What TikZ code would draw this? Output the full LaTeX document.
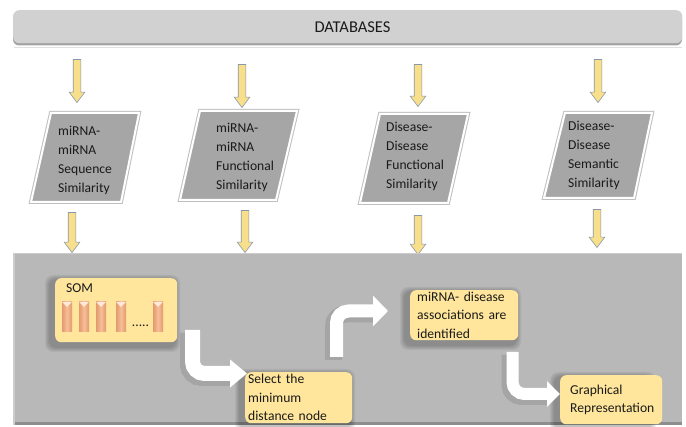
\documentclass[tikz,border=0pt]{standalone}
\usepackage{fontspec}
\setmainfont{Carlito}
\usetikzlibrary{shapes.arrows,arrows.meta,calc}
\definecolor{dbgray}{HTML}{D1D1D1}
\definecolor{dbedge}{HTML}{A3A3A3}
\definecolor{pgray}{HTML}{A6A6A6}
\definecolor{panelgray}{HTML}{B8B8B8}
\definecolor{paneledge}{HTML}{8E8E8E}
\definecolor{boxyellow}{HTML}{FFE69C}
\definecolor{arryellow}{HTML}{F7DF8C}
\definecolor{arredge}{HTML}{8A97AA}
\definecolor{barorange}{HTML}{E39A6F}
\definecolor{barmid}{HTML}{F7BE98}
\definecolor{barlight}{HTML}{FFE9DA}
\definecolor{txt}{HTML}{1A1A1A}
\newcommand\softshadow[4]{%
  \foreach \i in {1,...,5}{%
    \fill[black,opacity=0.05,rounded corners=8pt] ({#1-5-\i},{#2+2-\i}) rectangle ({#3-2+\i},{#4+5+\i});}}
\newcommand\sombar[1]{%
  \fill[left color=barorange,right color=barorange,middle color=barmid] (#1,302) rectangle ({#1+10},332);
  \fill[barlight] (#1,302) -- ({#1+10},302) -- ({#1+5},307) -- cycle;}
\begin{document}
\begin{tikzpicture}[x=1pt,y=-1pt,
  yarrow/.style={single arrow, draw=arredge, line width=0.6pt, fill=arryellow,
    single arrow head extend=4pt, single arrow tip angle=74,
    inner xsep=0pt, inner ysep=3.5pt, rotate=-90},
  para/.style={fill=pgray, draw=white, line width=2pt},
  paraout/.style={draw=black!25, line width=4pt},
  ptext/.style={anchor=west, inner sep=0pt, align=left,
    font=\fontsize{13.6}{19}\selectfont, text=txt},
  ybox/.style={fill=boxyellow, rounded corners=6pt, inner ysep=0pt, align=left,
    font=\fontsize{13.6}{18.5}\selectfont, text=txt, anchor=north west},
  warrowshadow/.style={draw=black, opacity=0.10, rounded corners=12pt},
  warrow/.style={draw=white, rounded corners=12pt}
]
\useasboundingbox (0,0) rectangle (686,427);
\fill[white] (0,0) rectangle (686,427);

% DATABASES bar
\fill[black!12] (14,47) rectangle (682,48.5);
\fill[dbedge, rounded corners=6pt] (13,12) rectangle (682,45.5);
\node[fill=dbgray, rounded corners=6pt, minimum width=669pt, minimum height=33pt,
  anchor=north west, inner sep=0pt] (db) at (13,10) {};
\node[font=\fontsize{16.5}{20}\selectfont, text=txt] (dblbl) at (352.5,27) {DATABASES};

% parallelograms
\draw[paraout] (51,113) -- (139,113) -- (121,202) -- (31,202) -- cycle;
\draw[para] (51,113) -- (139,113) -- (121,202) -- (31,202) -- cycle;
\node[ptext] (p1) at (58,160) {miRNA-\\miRNA\\Sequence\\Similarity};

\draw[paraout] (200,111) -- (297,111) -- (276,200) -- (180,200) -- cycle;
\draw[para] (200,111) -- (297,111) -- (276,200) -- (180,200) -- cycle;
\node[ptext] (p2) at (216,157) {miRNA-\\miRNA\\Functional\\Similarity};

\draw[paraout] (380,114) -- (468,114) -- (448,203) -- (360,203) -- cycle;
\draw[para] (380,114) -- (468,114) -- (448,203) -- (360,203) -- cycle;
\node[ptext] (p3) at (386,156) {Disease-\\Disease\\Functional\\Similarity};

\draw[paraout] (565,113) -- (652,113) -- (634,198) -- (544,198) -- cycle;
\draw[para] (565,113) -- (652,113) -- (634,198) -- (544,198) -- cycle;
\node[ptext] (p4) at (568,155.5) {Disease-\\Disease\\Semantic\\Similarity};

% yellow arrows: databases -> similarities
\coordinate (t1a) at (77,57);   \coordinate (t1b) at (77,100);
\coordinate (t2a) at (242,62);  \coordinate (t2b) at (242,105);
\coordinate (t3a) at (418,62);  \coordinate (t3b) at (418,104);
\coordinate (t4a) at (598,57);  \coordinate (t4b) at (598,100);
\node[yarrow, minimum height=43pt] (ua1) at ($(t1a)!0.5!(t1b)$) {};
\node[yarrow, minimum height=43pt] (ua2) at ($(t2a)!0.5!(t2b)$) {};
\node[yarrow, minimum height=42pt] (ua3) at ($(t3a)!0.5!(t3b)$) {};
\node[yarrow, minimum height=43pt] (ua4) at ($(t4a)!0.5!(t4b)$) {};

% yellow arrows: similarities -> panel
\coordinate (b1a) at (72,210);  \coordinate (b1b) at (72,250);
\coordinate (b2a) at (245,208); \coordinate (b2b) at (245,250);
\coordinate (b3a) at (418,213); \coordinate (b3b) at (418,252);
\coordinate (b4a) at (597,207); \coordinate (b4b) at (597,245);
\node[yarrow, minimum height=40pt] (da1) at ($(b1a)!0.5!(b1b)$) {};
\node[yarrow, minimum height=42pt] (da2) at ($(b2a)!0.5!(b2b)$) {};
\node[yarrow, minimum height=39pt] (da3) at ($(b3a)!0.5!(b3b)$) {};
\node[yarrow, minimum height=38pt] (da4) at ($(b4a)!0.5!(b4b)$) {};

% bottom panel
\fill[black!20] (13,253) rectangle (682,425);
\node[fill=panelgray, minimum width=667pt, minimum height=169pt, anchor=north west,
  inner sep=0pt] (panel) at (15,254) {};
\fill[paneledge] (15,422) rectangle (682,425.5);

% SOM box
\softshadow{55}{278}{177}{342}
\node[ybox, minimum width=122pt, minimum height=64pt, inner sep=0pt] (som) at (55,278) {};
\node[anchor=north west, inner sep=0pt, font=\fontsize{13.6}{16}\selectfont, text=txt] (somlbl) at (66,283) {SOM};
\sombar{62}
\sombar{79}
\sombar{96}
\sombar{116}
\sombar{153}
\node[inner sep=0pt, font=\fontsize{13.6}{16}\selectfont, text=txt] (dots) at (140.5,326) {.....};

% white bent arrows (with soft shadows)
\coordinate (a1s) at (192.5,330); \coordinate (a1e) at (247,373.5);
\coordinate (a2s) at (336.5,357); \coordinate (a2e) at (388,311);
\coordinate (a3s) at (512.5,352); \coordinate (a3e) at (560,394);
\draw[warrowshadow, line width=19pt] ($(a1s)+(-3,3)$) |- ($(a1e)+(-16,3)$);
\draw[warrowshadow, line width=17pt] ($(a2s)+(-3,3)$) |- ($(a2e)+(-14,3)$);
\draw[warrowshadow, line width=16pt] ($(a3s)+(-3,3)$) |- ($(a3e)+(-12,3)$);

% other yellow boxes
\softshadow{245}{372}{352}{423}
\softshadow{410}{290}{518}{340}
\softshadow{560}{375}{653}{424}
\node[ybox, minimum width=107pt, minimum height=51pt, text width=101pt, inner xsep=3pt] (sel) at (245,372)
  {Select the\\minimum\\distance node};
\node[ybox, minimum width=108pt, minimum height=50pt, text width=94pt, inner xsep=7pt] (assoc) at (410,290)
  {miRNA- disease\\associations are\\identified};
\node[ybox, minimum width=93pt, minimum height=49pt, text width=82pt, inner xsep=10pt] (graph) at (560,375)
  {Graphical\\Representation};

\draw[warrow, line width=15pt, -{Triangle[width=27pt,length=17pt]}] (a1s) |- (a1e);
\draw[warrow, line width=13pt, -{Triangle[width=30pt,length=15pt]}] (a2s) |- (a2e);
\draw[warrow, line width=12pt, -{Triangle[width=25pt,length=13pt]}] (a3s) |- (a3e);
\end{tikzpicture}
\end{document}
